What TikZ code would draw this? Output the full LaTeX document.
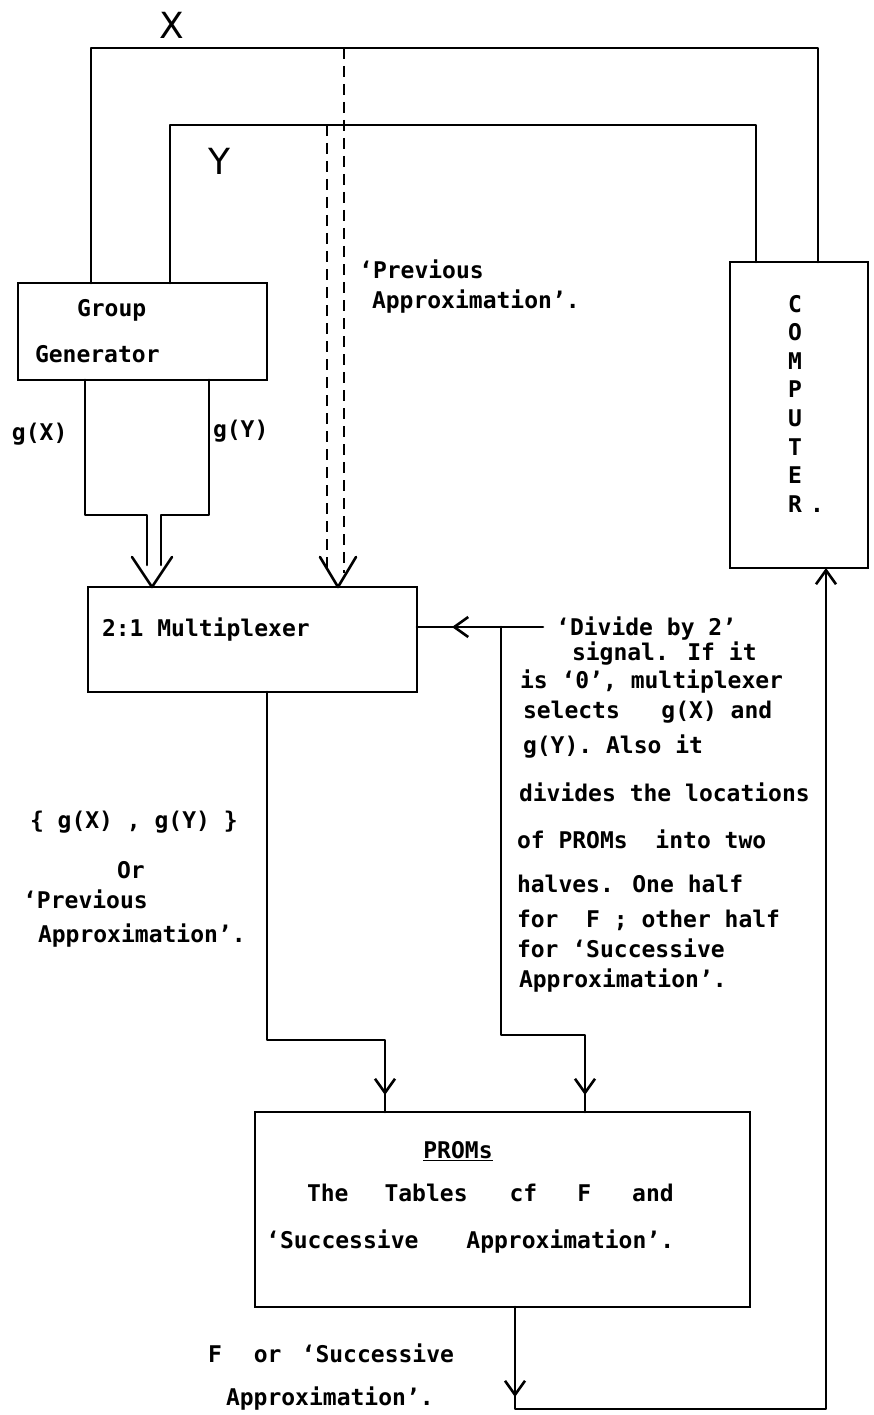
\documentclass[tikz,border=0pt]{standalone}
\usepackage{fontspec}
\newfontfamily\lettering{DejaVu Sans Mono Bold}
\newfontfamily\bigletter{DejaVu Sans}
\usetikzlibrary{arrows.meta,decorations.markings}
\tikzset{
  wire/.style={line width=2.6pt, line cap=round, line join=round},
  dashwire/.style={line width=2.6pt, line cap=butt, dash pattern=on 11pt off 7pt},
  box/.style={draw, line width=2.6pt, rectangle, inner sep=0pt, outer sep=0pt},
  lab/.style={anchor=base west, inner sep=0pt, outer sep=0pt,
    font=\lettering\fontsize{23}{28}\selectfont},
  bigl/.style={inner sep=0pt, font=\bigletter\fontsize{36}{40}\selectfont},
  barb/.tip={Straight Barb[length=14pt,width=20pt]},
  midtip/.style={postaction={decorate},
    decoration={markings, mark=at position #1 with {\arrow{barb}}}},
}
\begin{document}
\begin{tikzpicture}[x=1pt,y=-1pt]
\fill[white] (0,0) rectangle (873,1415);
\useasboundingbox (0,0) rectangle (873,1415);

% blocks
\node[box, minimum width=249pt, minimum height=97pt]  (gg)       at (142.5,331.5) {};
\node[box, minimum width=329pt, minimum height=105pt] (mux)      at (252.5,639.5) {};
\node[box, minimum width=138pt, minimum height=306pt] (computer) at (799,415) {};
\node[box, minimum width=495pt, minimum height=195pt] (proms)    at (502.5,1209.5) {};

% X and Y buses from the computer back to the group generator
\draw[wire] ([xshift=-51.5pt]gg.north) -- ++(0,-235) -| ([xshift=19pt]computer.north);
\draw[wire] ([xshift=27.5pt]gg.north) -- ++(0,-158) -| ([xshift=-43pt]computer.north);
\node[bigl] (lx) at (172,25) {X};
\node[bigl] (ly) at (219,161) {Y};

% previous approximation taps (dashed)
\coordinate (xtap) at (344,48);
\coordinate (ytap) at (327,125);
\draw[dashwire] (xtap) -- ([xshift=91.5pt,yshift=14pt]mux.north);
\draw[dashwire] (ytap) -- ([xshift=74.5pt,yshift=14pt]mux.north);
\draw[wire] ([xshift=85.5pt]mux.north) ++(-18,-30) -- ([xshift=85.5pt]mux.north) -- ++(18,-30);

% g(X), g(Y) into the multiplexer
\draw[wire] ([xshift=-57.5pt]gg.south) -- ++(0,135) -| ([xshift=-105.5pt,yshift=22pt]mux.north);
\draw[wire] ([xshift=66.5pt]gg.south) -- ++(0,135) -| ([xshift=-91.5pt,yshift=22pt]mux.north);
\draw[wire] ([xshift=-100.5pt]mux.north) ++(-20,-30) -- ([xshift=-100.5pt]mux.north) -- ++(20,-30);

% divide-by-2 signal
\coordinate (divsrc) at (543,627);
\coordinate (branch) at (501,627);
\draw[wire, midtip=91pt] (divsrc) -- (divsrc -| mux.east);
\draw[wire, midtip=-17pt] (branch) -- ++(0,408) -| ([xshift=82.5pt]proms.north);

% multiplexer output to PROMs
\draw[wire, midtip=-17pt] ([xshift=14.5pt]mux.south) -- ++(0,348) -| ([xshift=-117.5pt]proms.north);

% PROMs output back to the computer
\draw[wire, midtip=90pt, -{barb}] ([xshift=12.5pt]proms.south) -- ++(0,102) -| ([xshift=27pt]computer.south);

% texts
\node[lab] (prev1) at (373,278) {\llap{‘}Previous};
\node[lab] (prev2) at (372,308) {Approximation’.};
\node[lab] (gg1) at (77,316) {Group};
\node[lab] (gg2) at (35,362) {Generator};
\node[lab] (lgx) at (12,440) {g(X)};
\node[lab] (lgy) at (213,437) {g(Y)};
\node[lab] (muxt) at (102,636) {2:1 Multiplexer};

\node[lab] (d1) at (570,635) {\llap{‘}Divide by 2’};
\node[lab] (d2) at (572,660) {signal. If it};
\node[lab] (d3) at (520,688) {is ‘0’, multiplexer};
\node[lab] (d4) at (523,718) {selects\ \ \ g(X) and};
\node[lab] (d5) at (523,753) {g(Y). Also it};
\node[lab] (d6) at (519,801) {divides the locations};
\node[lab] (d7) at (517,848) {of PROMs\ \ into two};
\node[lab] (d8) at (517,892) {halves. One half};
\node[lab] (d9) at (517,927) {for\ \ F ; other half};
\node[lab] (d10) at (517,957) {for ‘Successive};
\node[lab] (d11) at (519,987) {Approximation’.};

\node[lab] (o1) at (30,828) {\{ g(X) , g(Y) \}};
\node[lab] (o2) at (117,878) {Or};
\node[lab] (o3) at (37,908) {\llap{‘}Previous};
\node[lab] (o4) at (38,942) {Approximation’.};

\node[lab, anchor=base] (p1) at (458,1158) {\underline{PROMs}};
\node[lab] (p2) at (307,1201) {The\hspace{36pt}Tables\hspace{42pt}cf\hspace{40pt}F\hspace{41pt}and};
\node[lab] (p3) at (280,1248) {\llap{‘}Successive\hspace{48pt}Approximation’.};

\node[lab] (b1) at (208,1362) {F\hspace{32pt}or\hspace{34pt}\llap{‘}Successive};
\node[lab] (b2) at (226,1405) {Approximation’.};

\foreach \ch [count=\i from 0] in {C,O,M,P,U,T,E,R}
  \node[lab, anchor=base] (cpu\i) at (795, 312+28.6*\i) {\ch};
\node[lab, anchor=base] (cpudot) at (817,512) {.};
\end{tikzpicture}
\end{document}
